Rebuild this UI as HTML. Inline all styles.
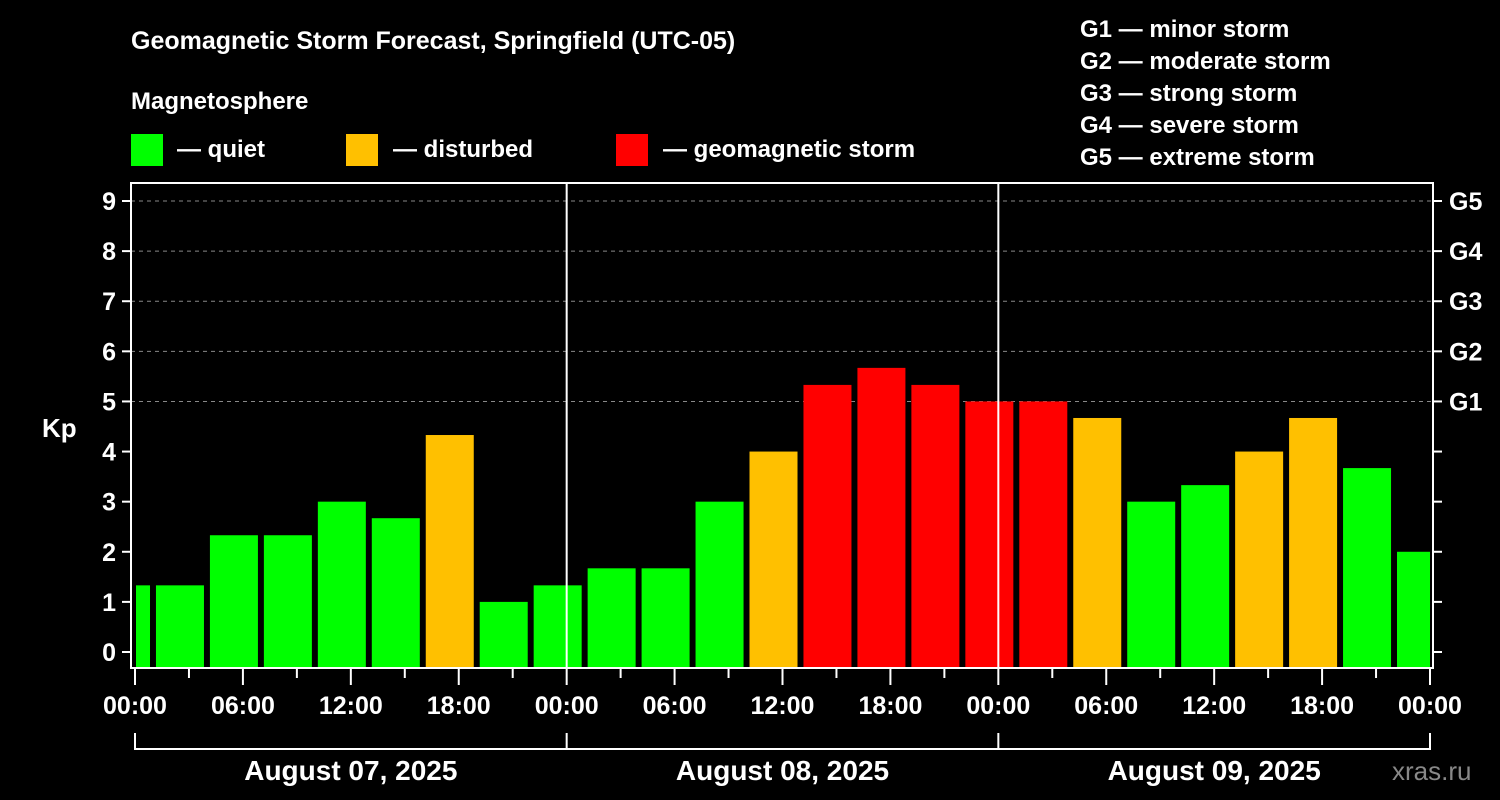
<!DOCTYPE html>
<html><head><meta charset="utf-8"><style>
html,body{margin:0;padding:0;background:#000;}
svg{display:block;font-family:"Liberation Sans",sans-serif;font-weight:bold;}
</style></head><body>
<svg width="1500" height="800" viewBox="0 0 1500 800">
<rect x="0" y="0" width="1500" height="800" fill="#000"/>
<text x="131" y="49" fill="#fff" font-size="25">Geomagnetic Storm Forecast, Springfield (UTC-05)</text>
<text x="131" y="109" fill="#fff" font-size="24">Magnetosphere</text>
<g><rect x="131" y="134" width="32" height="32" fill="#00ff00"/><text x="177" y="157" fill="#fff" font-size="24">— quiet</text></g>
<g><rect x="346" y="134" width="32" height="32" fill="#ffc000"/><text x="393" y="157" fill="#fff" font-size="24">— disturbed</text></g>
<g><rect x="616" y="134" width="32" height="32" fill="#ff0000"/><text x="663" y="157" fill="#fff" font-size="24">— geomagnetic storm</text></g>
<g fill="#fff" font-size="24">
<text x="1080" y="37">G1 — minor storm</text>
<text x="1080" y="69">G2 — moderate storm</text>
<text x="1080" y="101">G3 — strong storm</text>
<text x="1080" y="133">G4 — severe storm</text>
<text x="1080" y="165">G5 — extreme storm</text>
</g>
<text x="42" y="437" fill="#fff" font-size="26">Kp</text>
<text x="1392" y="780" fill="#888" font-size="26" font-weight="normal">xras.ru</text>
<g id="grid"></g>
<g id="bars"></g>
<g id="axes"></g>
</svg>
<script>
const kpValues = [1.33,1.33,2.33,2.33,3,2.67,4.33,1,1.33,1.67,1.67,3,4,5.33,5.67,5.33,5,5,4.67,3,3.33,4,4.67,3.67,2];
const yTicks = [0,1,2,3,4,5,6,7,8,9];
const gLabels = ["G1","G2","G3","G4","G5"];
const xTickLabels = ["00:00","06:00","12:00","18:00","00:00","06:00","12:00","18:00","00:00","06:00","12:00","18:00","00:00"];
const dayLabels = ["August 07, 2025","August 08, 2025","August 09, 2025"];
const NS="http://www.w3.org/2000/svg";
const X0=135, PXH=(1430-135)/72, Y0=652, PXK=(652-201)/9, BOT=668;
const xs=h=>X0+h*PXH, ys=k=>Y0-k*PXK;
function mk(tag,attrs,parent,txt){const e=document.createElementNS(NS,tag);for(const k in attrs)e.setAttribute(k,attrs[k]);if(txt!==undefined)e.textContent=txt;parent.appendChild(e);return e;}
const grid=document.getElementById('grid'),bars=document.getElementById('bars'),axes=document.getElementById('axes');
for(let k=5;k<=9;k++){
  const l=mk('line',{x1:131,x2:1433,y1:ys(k),y2:ys(k),stroke:'#888','stroke-dasharray':'4,4','stroke-width':1},grid);
  
  
}
kpValues.forEach((v,i)=>{
  const c=(i*3-0.5);
  let x1=xs(c)-24, x2=xs(c)+24;
  x1=Math.max(x1,136); x2=Math.min(x2,1430);
  const col=v>=5?'#ff0000':(v>=4?'#ffc000':'#00ff00');
  const r=mk('rect',{x:x1,y:ys(v),width:x2-x1,height:BOT-ys(v),fill:col},bars);
  
  
});
// day separators
[1,2].forEach(d=>{
  const l=mk('line',{x1:xs(d*24),x2:xs(d*24),y1:183,y2:668,stroke:'#fff','stroke-width':2},axes);
  
  
});
const fr=mk('rect',{x:131,y:183,width:1302,height:485,fill:'none',stroke:'#fff','stroke-width':2},axes);


yTicks.forEach(k=>{
  mk('line',{x1:122,x2:131,y1:ys(k),y2:ys(k),stroke:'#fff','stroke-width':2},axes);
  mk('line',{x1:1433,x2:1442,y1:ys(k),y2:ys(k),stroke:'#fff','stroke-width':2},axes);
  const t=mk('text',{x:116,y:ys(k)+9,fill:'#fff','font-size':25,'text-anchor':'end'},axes,String(k));
  
  
});
gLabels.forEach((g,i)=>{
  const t=mk('text',{x:1449,y:ys(5+i)+9,fill:'#fff','font-size':25},axes,g);
  
  
});
for(let h=0;h<=72;h+=3){
  const long=h%6===0;
  mk('line',{x1:xs(h),x2:xs(h),y1:669,y2:long?685:678,stroke:'#fff','stroke-width':2},axes);
}
xTickLabels.forEach((s,i)=>{
  const t=mk('text',{x:xs(i*6),y:714,fill:'#fff','font-size':25,'text-anchor':'middle'},axes,s);
  
  
});
const br=mk('path',{d:`M${xs(0)},733V749H${xs(72)}V733M${xs(24)},733V749M${xs(48)},733V749`,fill:'none',stroke:'#fff','stroke-width':2},axes);


dayLabels.forEach((s,i)=>{
  const t=mk('text',{x:xs(i*24+12),y:780,fill:'#fff','font-size':28,'text-anchor':'middle'},axes,s);
  
  
});
</script>
</body></html>
